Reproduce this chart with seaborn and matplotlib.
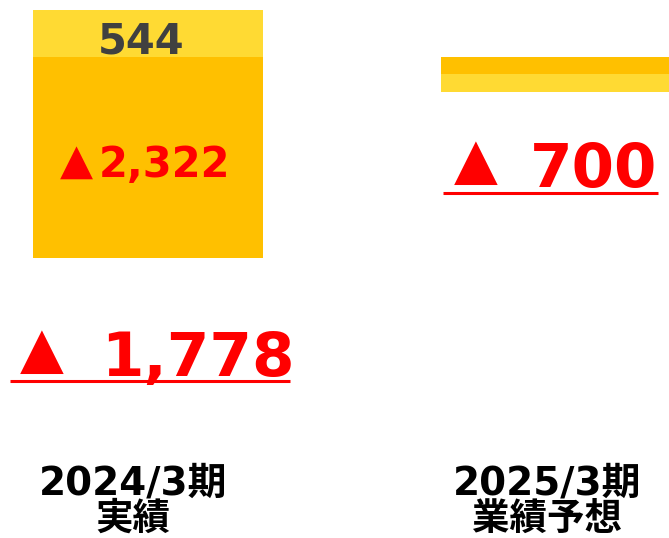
import numpy as np
import pandas as pd
import matplotlib
matplotlib.use("Agg")
import matplotlib.pyplot as plt
import seaborn as sns

# data
periods = ["2024/3期\n実績", "2025/3期\n業績予想"]
yellow_seg = [544, -200]     # light yellow segment
orange_seg = [-2322, -200]   # orange segment
net_values = ["1,778", "700"]
seg_top = "544"
seg_bottom = "2,322"

sns.set_theme(style="white")
plt.rcParams['font.family'] = ['DejaVu Sans', 'Noto Sans CJK JP']

fig = plt.figure(figsize=(6.69, 5.38), dpi=100)
ax = fig.add_axes([0, 0, 1, 1])

# bar 2 stacks yellow below orange, so draw the yellow total first, orange on top
yellow_top = [yellow_seg[0], orange_seg[1] + yellow_seg[1]]
df_y = pd.DataFrame({"period": periods, "val": yellow_top})
df_o = pd.DataFrame({"period": periods, "val": orange_seg})

sns.barplot(data=df_y, x="period", y="val", color="#FFDA33", width=0.564,
            saturation=1, linewidth=0, edgecolor="none", ax=ax)
sns.barplot(data=df_o, x="period", y="val", color="#FFC000", width=0.564,
            saturation=1, linewidth=0, edgecolor="none", ax=ax)

upx = 2866 / 248  # data units per pixel
ax.set_ylim(-(538 - 57) * upx, 57 * upx)
ax.set_xlim(-0.363, 1.277)
ax.axis("off")


def px(x, y):
    # picture pixel -> data coords
    return (x - 148) / 408, (57 - y) * upx


RED = "#FF0000"

# segment labels
ax.text(*px(141, 53), seg_top, ha="center", va="baseline",
        fontsize=30, fontweight="bold", color="#404040")
ax.text(*px(76, 174), "▲", ha="center", va="baseline", fontsize=31, color=RED)
ax.text(*px(99, 177), seg_bottom, ha="left", va="baseline",
        fontsize=30, fontweight="bold", color=RED)

# net labels: triangle, number, underline
net_layout = [
    # tri center x, tri baseline, digits left, digits baseline, underline y, x0, x1
    (42, 367, 101, 376, 381, 10, 290),
    (476, 178, 530, 187, 193, 443, 658),
]
for val, (tx, tb, dx, db, uy, x0, x1) in zip(net_values, net_layout):
    ax.text(*px(tx, tb), "▲", ha="center", va="baseline", fontsize=41, color=RED)
    ax.text(*px(dx, db), val, ha="left", va="baseline", fontsize=44,
            fontweight="bold", color=RED)
    (ux0, uyy), (ux1, _) = px(x0, uy), px(x1, uy)
    ax.plot([ux0, ux1], [uyy, uyy], color=RED, lw=2.2, solid_capstyle="butt")

# category labels
cat_x = [133, 547]
for x, lab in zip(cat_x, periods):
    l1, l2 = lab.split("\n")
    ax.text(*px(x, 495), l1, ha="center", va="baseline",
            fontsize=28, fontweight="bold", color="black",
            family=['DejaVu Sans', 'Noto Sans CJK JP'])
    ax.text(*px(x, 530), l2, ha="center", va="baseline",
            fontsize=27, fontweight="bold", color="black",
            family=['Noto Sans CJK JP', 'DejaVu Sans'])

fig.savefig("out.png", dpi=100)
